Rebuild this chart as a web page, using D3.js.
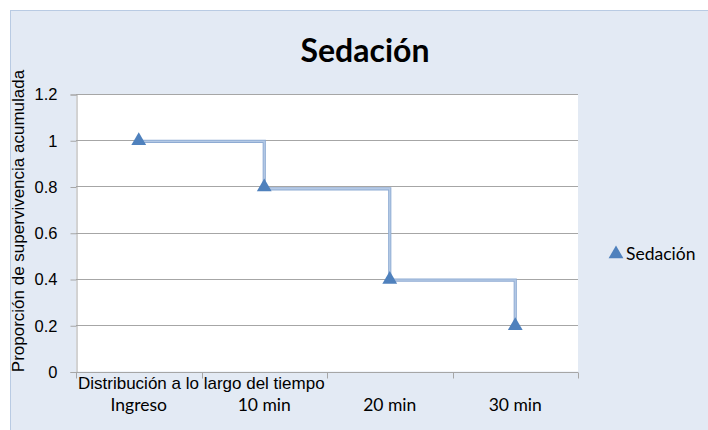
<!DOCTYPE html>
<html>
<head>
<meta charset="utf-8">
<script src="https://cdn.jsdelivr.net/npm/d3@7/dist/d3.min.js"></script>
<style>
  html, body { margin: 0; padding: 0; background: #ffffff; }
  svg { display: block; }
</style>
</head>
<body>
<svg id="chart" width="708" height="430"></svg>
<script>
// Survival proportion under sedation, per time point
const categories = ["Ingreso", "10 min", "20 min", "30 min"];
const sedacion = [1, 0.8, 0.4, 0.2];
// Kaplan–Meier style step trace joining the points
const stepValues = [0.995, 0.79, 0.395, 0.2];
const yTicks = [0, 0.2, 0.4, 0.6, 0.8, 1, 1.2];
const yTickLabels = ["0", "0.2", "0.4", "0.6", "0.8", "1", "1.2"];

const titleText = "Sedación";
const yTitle = "Proporción de supervivencia acumulada";
const xTitle = "Distribución a lo largo del tiempo";
const seriesName = "Sedación";

const svg = d3.select("#chart");
const W = 708, H = 430;
const calibri = "Lato, 'Open Sans', sans-serif";
const arial = "'Liberation Sans', Arial, sans-serif";

// chart area background
svg.append("rect")
  .attr("x", 10.5).attr("y", 10.5)
  .attr("width", W - 10).attr("height", H - 10)
  .attr("fill", "#e3eaf4").attr("stroke", "#b9cbe3").attr("stroke-width", 1);

const plot = { left: 76, right: 578, top: 94, bottom: 371.5 };

const x = d3.scaleBand().domain(categories).range([plot.left, plot.right]).padding(0);
const y = d3.scaleLinear().domain([0, 1.2]).range([plot.bottom, plot.top]);

// plot area
svg.append("rect")
  .attr("x", plot.left).attr("y", plot.top)
  .attr("width", plot.right - plot.left).attr("height", plot.bottom - plot.top)
  .attr("fill", "#ffffff");

// horizontal gridlines
svg.append("g").selectAll("line").data(yTicks.slice(1)).join("line")
  .attr("x1", plot.left).attr("x2", plot.right)
  .attr("y1", d => Math.round(y(d)) + 0.5).attr("y2", d => Math.round(y(d)) + 0.5)
  .attr("stroke", "#a6a6a6").attr("stroke-width", 1);

// y axis
const yAxis = d3.axisLeft(y).tickValues(yTicks)
  .tickFormat((d, i) => yTickLabels[i]).tickSize(6).tickPadding(13);
const gy = svg.append("g").attr("transform", `translate(${plot.left + 0.5},0.5)`).call(yAxis);
gy.select(".domain").attr("stroke", "#a6a6a6");
gy.selectAll(".tick line").attr("stroke", "#a6a6a6");
gy.selectAll(".tick text").attr("font-family", arial).attr("font-size", 16.5).attr("fill", "#000");

// x axis: ticks at category boundaries
const xBounds = categories.map(c => x(c)).concat([x(categories[categories.length - 1]) + x.bandwidth()]);
const gx = svg.append("g").attr("transform", `translate(0,${Math.round(plot.bottom) + 0.5})`);
gx.append("line").attr("x1", plot.left).attr("x2", plot.right).attr("stroke", "#a6a6a6");
gx.selectAll("line.tk").data(xBounds).join("line").attr("class", "tk")
  .attr("x1", d => Math.round(d) + 0.5).attr("x2", d => Math.round(d) + 0.5)
  .attr("y1", 0).attr("y2", 6).attr("stroke", "#a6a6a6");
gx.selectAll("text").data(categories).join("text")
  .attr("x", d => x(d) + x.bandwidth() / 2).attr("y", 38)
  .attr("text-anchor", "middle")
  .attr("font-family", calibri).attr("font-size", 17.5).attr("fill", "#000")
  .text(d => d);

// step trace
const line = d3.line()
  .x((d, i) => x(categories[i]) + x.bandwidth() / 2)
  .y(d => y(d))
  .curve(d3.curveStepAfter);
svg.append("path").datum(stepValues)
  .attr("d", line).attr("fill", "none")
  .attr("stroke", "#8eabd3").attr("stroke-width", 3.2);
svg.append("path").datum(stepValues)
  .attr("d", line).attr("fill", "none")
  .attr("stroke", "#b4c9e5").attr("stroke-width", 1.4);

// triangle markers
const tri = d3.symbol().type(d3.symbolTriangle).size(95);
svg.append("g").selectAll("path").data(sedacion).join("path")
  .attr("d", tri)
  .attr("transform", (d, i) => `translate(${x(categories[i]) + x.bandwidth() / 2},${y(d) + 0.5})`)
  .attr("fill", "#4f81bd");

// title
svg.append("text")
  .attr("x", 365).attr("y", 62).attr("text-anchor", "middle")
  .attr("font-family", calibri).attr("font-weight", "bold").attr("font-size", 32)
  .attr("fill", "#000").text(titleText);

// axis titles
svg.append("text")
  .attr("transform", `translate(24,${(70 + 372) / 2}) rotate(-90)`)
  .attr("text-anchor", "middle")
  .attr("font-family", arial).attr("font-size", 17).attr("fill", "#000")
  .text(yTitle);
svg.append("text")
  .attr("x", 78).attr("y", 389)
  .attr("font-family", arial).attr("font-size", 17).attr("fill", "#000")
  .text(xTitle);

// legend
const lg = svg.append("g").attr("transform", "translate(616,254)");
lg.append("path").attr("d", tri).attr("fill", "#4f81bd");
lg.append("text").attr("x", 10).attr("y", 6)
  .attr("font-family", calibri).attr("font-size", 17.5).attr("fill", "#000")
  .text(seriesName);
</script>
</body>
</html>
